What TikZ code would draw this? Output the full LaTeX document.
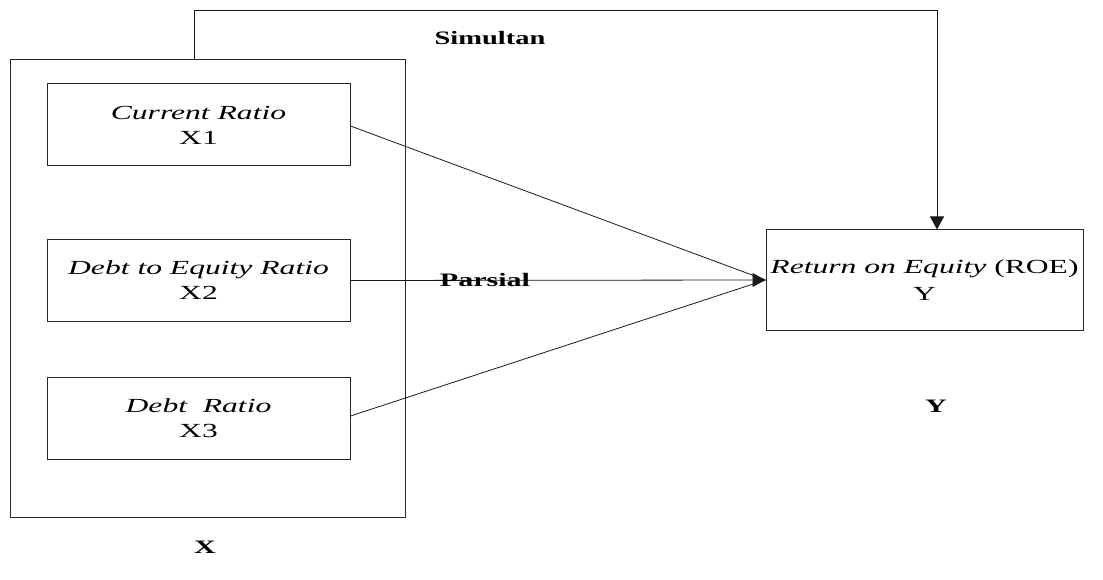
\documentclass[tikz,border=0pt]{standalone}
\usepackage{fontspec}
\setmainfont{Liberation Serif}
\usetikzlibrary{arrows.meta}
\newcommand{\wdx}[1]{\scalebox{1.58}[1]{#1}}
\newcommand{\wdl}[1]{\scalebox{1.5}[1]{#1}}
\tikzset{
  varbox/.style={draw=black!85, line width=1pt, minimum width=303pt, minimum height=82pt,
    align=center, inner sep=0pt, font=\fontsize{20}{25}\selectfont},
  outerbox/.style={draw=black!85, line width=1pt, minimum width=395pt, minimum height=457pt, inner sep=0pt},
  ybox/.style={draw=black!85, line width=1pt, minimum width=317pt, minimum height=100pt,
    align=center, inner sep=0pt, font=\fontsize{20}{27}\selectfont},
  lbl/.style={font=\fontsize{19}{22}\selectfont\bfseries, inner sep=0pt},
  conn/.style={line width=0.8pt, black!90},
  tip/.style={-{Triangle[length=13pt,width=14pt]}}
}
\begin{document}
\begin{tikzpicture}[x=1pt,y=-1pt]
\useasboundingbox (0,0) rectangle (1103,580);
\node[outerbox] (X) at (207.5,288.5) {};
\node[varbox] (x1) at (198.5,125) {\wdx{\textit{Current Ratio}}\\\wdx{X1}};
\node[varbox] (x2) at (198.5,280.5) {\wdx{\textit{Debt to Equity Ratio}}\\\wdx{X2}};
\node[varbox] (x3) at (198.5,418) {\wdx{\textit{Debt\ \ Ratio}}\\\wdx{X3}};
\node[ybox] (y) at (924.5,280) {\wdx{\textit{Return on Equity} (ROE)}\\\wdx{Y}};
\coordinate (tl) at (194,10);
\coordinate (tr) at (937,10);
\draw[conn] (X.north -| tl) -- (tl) -- (tr);
\draw[conn,tip] (tr) -- (tr |- y.north);
\draw[conn] (x1.east |- 0,126) -- (y.west);
\draw[conn,tip] (x2.east) -- (y.west);
\draw[conn] (x3.east |- 0,416) -- (y.west);
\node[lbl] (sim) at (490,38) {\wdl{Simultan}};
\node[lbl] (par) at (485,280) {\wdx{Parsial}};
\node[lbl] (ly) at (936,406) {\wdx{Y}};
\node[lbl] (lx) at (205,547) {\wdx{X}};
\end{tikzpicture}
\end{document}
